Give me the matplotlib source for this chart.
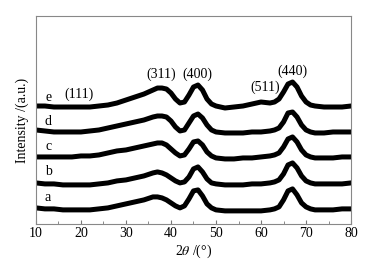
import matplotlib
matplotlib.use("Agg")
import matplotlib.pyplot as plt
from matplotlib.ticker import MultipleLocator

two_theta = [10, 12, 14, 16, 18, 20, 22, 24, 26, 28, 30, 32, 34, 36,
             37, 38, 39, 40, 41, 42, 43, 44, 45, 46, 47, 48, 49, 50,
             52, 54, 56, 58, 60, 62,
             63, 64, 65, 66, 67, 68, 69, 70, 71, 72,
             74, 76, 78, 80]

curve_a = [22, 21, 21, 20, 20, 20, 20, 21, 22, 24, 26, 28, 30, 33,
           33, 32, 30, 27, 24, 22, 24, 31, 39, 40, 34, 26, 22, 20,
           19, 19, 19, 19, 19, 20,
           21, 23, 30, 39, 41, 35, 27, 23, 21, 20,
           20, 20, 21, 21]
curve_b = [47, 46, 46, 45, 45, 45, 45, 46, 47, 49, 50, 52, 54, 57,
           58, 57, 55, 52, 49, 47, 48, 53, 61, 63, 58, 51, 47, 46,
           45, 45, 45, 46, 46, 47,
           48, 50, 56, 65, 67, 62, 54, 49, 47, 46,
           46, 46, 46, 47]
curve_c = [73, 73, 73, 73, 73, 74, 74, 75, 77, 79, 80, 82, 84, 86,
           87, 87, 85, 81, 77, 74, 75, 81, 88, 89, 85, 78, 74, 72,
           71, 71, 72, 72, 73, 74,
           75, 77, 83, 91, 93, 88, 80, 75, 73, 72,
           72, 72, 73, 73]
curve_d = [100, 99, 98, 98, 98, 98, 99, 100, 102, 104, 106, 108, 110, 113,
           114, 114, 113, 109, 103, 99, 100, 107, 114, 116, 112, 105, 100, 98,
           97, 97, 97, 98, 98, 99,
           100, 102, 108, 117, 118, 113, 105, 100, 98, 97,
           97, 98, 98, 98]
curve_e = [124, 124, 123, 123, 123, 123, 123, 124, 125, 127, 130, 133, 136, 140,
           142, 142, 141, 137, 131, 127, 128, 135, 143, 145, 140, 131, 126, 124,
           122, 123, 124, 126, 128, 127,
           128, 131, 138, 146, 148, 143, 134, 128, 125, 124,
           123, 123, 123, 124]

curves = [curve_a, curve_b, curve_c, curve_d, curve_e]
curve_names = ['a', 'b', 'c', 'd', 'e']
name_levels = [32, 58, 83, 108, 133]

peak_labels = ['(111)', '(311)', '(400)', '(511)', '(440)']
peak_pos = [19.6, 37.8, 45.8, 60.9, 66.9]
peak_levels = [136, 156, 156, 143, 159]

plt.rcParams['font.family'] = ['Liberation Serif', 'DejaVu Serif']
plt.rcParams['mathtext.fontset'] = 'stix'

fig = plt.figure(figsize=(3.82, 2.64), dpi=100)
ax = fig.add_axes([0.094, 0.152, 0.825, 0.787])

for y in curves:
    ax.plot(two_theta, y, color='black', lw=3.6, solid_joinstyle='round')

for name, lvl in zip(curve_names, name_levels):
    ax.text(12.7, lvl, name, fontsize=10, ha='center', va='center')

for lab, x, lvl in zip(peak_labels, peak_pos, peak_levels):
    ax.text(x, lvl, lab, fontsize=10, ha='center', va='center')

ax.set_xlim(10, 80)
ax.set_ylim(6, 214)
ax.set_yticks([])
ax.xaxis.set_major_locator(MultipleLocator(10))
ax.xaxis.set_minor_locator(MultipleLocator(5))
ax.tick_params(axis='x', which='both', direction='in', color='#777777',
               labelsize=10, pad=2)
ax.tick_params(axis='x', which='major', length=3)
ax.tick_params(axis='x', which='minor', length=2)
for s in ax.spines.values():
    s.set_color('#888888')
    s.set_linewidth(0.8)

ax.set_xlabel(r'2$\theta$ /(°)', fontsize=10, labelpad=2)
ax.set_ylabel('Intensity /(a.u.)', fontsize=10, labelpad=5)

fig.savefig('out.png', dpi=100)
